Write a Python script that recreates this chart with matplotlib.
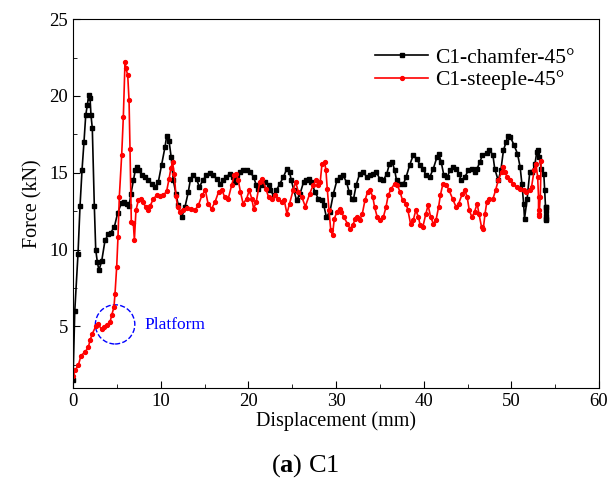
import matplotlib
matplotlib.use('Agg')
import matplotlib.pyplot as plt
import numpy as np
from matplotlib.patches import Ellipse
from matplotlib.ticker import MultipleLocator

plt.rcParams['font.family'] = 'Liberation Serif'
plt.rcParams['mathtext.fontset'] = 'custom'
plt.rcParams['mathtext.rm'] = 'Liberation Serif'
plt.rcParams['mathtext.bf'] = 'Liberation Serif:bold'

chamfer_data = [
    (0.0, 1.5), (0.2, 6.0), (0.57, 9.74), (0.8, 12.84), (1.03, 15.2), (1.25, 17.0),
    (1.45, 18.75), (1.63, 19.4), (1.79, 20.05), (1.94, 19.9), (2.05, 18.75), (2.2, 17.9),
    (2.43, 12.84), (2.59, 10.0), (2.77, 9.2), (2.96, 8.65), (3.27, 9.25), (3.65, 10.6),
    (4.03, 11.0), (4.3, 11.1), (4.71, 11.47), (5.1, 12.4), (5.55, 13.06), (5.85, 13.1),
    (6.12, 12.95), (6.39, 12.84), (6.61, 13.64), (6.88, 14.5), (7.1, 15.16), (7.33, 15.4),
    (7.52, 15.2), (7.83, 14.84), (8.2, 14.73), (8.59, 14.5), (8.97, 14.3), (9.35, 14.07),
    (9.73, 14.4), (10.1, 15.5), (10.5, 16.7), (10.68, 17.4), (10.95, 17.1), (11.2, 16.0),
    (11.44, 14.5), (11.74, 13.64), (12.0, 12.9), (12.4, 12.12), (12.77, 12.77), (13.15, 13.75),
    (13.4, 14.6), (13.7, 14.84), (14.1, 14.6), (14.4, 14.07), (14.8, 14.5), (15.2, 14.84),
    (15.6, 15.0), (16.0, 14.84), (16.4, 14.6), (16.8, 14.3), (17.1, 14.5), (17.5, 14.73),
    (17.9, 14.95), (18.3, 14.73), (18.5, 14.4), (18.7, 14.84), (19.0, 15.05), (19.4, 15.16),
    (19.8, 15.2), (20.2, 15.05), (20.6, 14.73), (20.9, 14.2), (21.1, 13.97), (21.5, 14.2),
    (21.9, 14.4), (22.3, 14.2), (22.5, 13.86), (22.9, 13.53), (23.2, 13.86), (23.6, 14.3),
    (24.0, 14.73), (24.4, 15.27), (24.7, 15.05), (24.9, 14.5), (25.2, 13.86), (25.5, 13.2),
    (25.9, 13.64), (26.3, 14.4), (26.6, 14.5), (26.9, 14.6), (27.2, 14.4), (27.6, 13.75),
    (28.0, 13.3), (28.4, 13.2), (28.6, 12.9), (28.9, 12.12), (29.3, 12.45), (29.7, 13.64),
    (30.1, 14.5), (30.4, 14.73), (30.8, 14.84), (31.2, 14.4), (31.5, 13.75), (31.8, 13.3),
    (32.0, 13.3), (32.3, 14.2), (32.7, 14.95), (33.1, 15.05), (33.5, 14.73), (33.9, 14.84),
    (34.2, 14.95), (34.6, 15.05), (35.0, 14.6), (35.4, 14.5), (35.8, 14.95), (36.1, 15.6),
    (36.4, 15.7), (36.7, 15.16), (36.9, 14.5), (37.3, 14.3), (37.7, 14.3), (38.0, 14.73),
    (38.4, 15.5), (38.8, 16.14), (39.2, 15.9), (39.6, 15.5), (39.9, 15.27), (40.3, 14.84),
    (40.7, 14.73), (41.1, 15.27), (41.5, 16.0), (41.7, 16.25), (42.0, 15.7), (42.3, 14.84),
    (42.7, 14.73), (43.0, 15.16), (43.4, 15.4), (43.7, 15.27), (44.0, 14.95), (44.3, 14.5),
    (44.7, 14.73), (45.1, 15.16), (45.5, 15.27), (45.8, 15.05), (46.1, 15.27), (46.4, 15.7),
    (46.7, 16.14), (47.2, 16.3), (47.5, 16.5), (47.9, 16.14), (48.1, 15.27), (48.5, 14.5),
    (48.8, 15.16), (49.1, 16.47), (49.4, 17.0), (49.6, 17.4), (49.9, 17.33), (50.3, 16.8),
    (50.7, 16.25), (51.0, 15.38), (51.2, 14.3), (51.4, 13.0), (51.5, 12.0), (51.8, 13.3),
    (52.1, 15.05), (52.4, 15.05), (52.7, 15.6), (52.9, 16.36), (53.0, 16.47), (53.2, 16.0),
    (53.4, 15.27), (53.7, 14.95), (53.8, 13.86), (53.9, 12.77), (53.9, 11.9), (54.0, 12.8),
    (53.95, 12.2), (54.0, 12.5), (53.9, 12.0),
]

steeple_data = [
    (0.04, 1.8), (0.23, 2.13), (0.6, 2.46), (0.91, 3.1), (1.37, 3.33), (1.75, 3.65),
    (1.94, 4.1), (2.2, 4.52), (2.59, 5.0), (2.88, 5.13), (3.27, 4.8), (3.53, 4.95),
    (3.84, 5.07), (4.22, 5.28), (4.41, 5.72), (4.67, 6.26), (4.79, 7.13), (4.98, 8.86),
    (5.13, 10.82), (5.28, 13.42), (5.55, 16.14), (5.74, 18.64), (5.93, 22.22), (6.04, 21.8),
    (6.24, 21.35), (6.39, 19.72), (6.5, 16.58), (6.65, 11.8), (6.88, 11.73), (7.0, 10.6),
    (7.18, 12.56), (7.45, 13.2), (7.75, 13.3), (8.0, 13.1), (8.28, 12.77), (8.59, 12.56),
    (8.78, 12.82), (9.16, 13.3), (9.54, 13.53), (9.92, 13.5), (10.3, 13.53), (10.68, 13.8),
    (10.95, 14.6), (11.17, 15.3), (11.35, 15.7), (11.55, 14.95), (11.74, 13.5), (11.94, 12.77),
    (12.2, 12.45), (12.57, 12.56), (12.96, 12.7), (13.5, 12.66), (13.9, 12.56), (14.3, 12.88),
    (14.7, 13.53), (15.1, 13.86), (15.4, 13.0), (15.8, 12.66), (16.2, 13.1), (16.6, 13.75),
    (17.0, 13.86), (17.3, 13.42), (17.7, 13.3), (18.1, 14.2), (18.4, 14.84), (18.6, 14.95),
    (18.85, 14.5), (19.1, 13.75), (19.4, 13.0), (19.8, 13.3), (20.1, 13.86), (20.4, 13.3),
    (20.6, 12.66), (20.9, 13.1), (21.3, 14.4), (21.6, 14.6), (22.0, 13.97), (22.3, 13.42),
    (22.7, 13.3), (23.0, 13.53), (23.4, 13.3), (23.8, 13.1), (24.1, 13.2), (24.4, 12.34),
    (24.7, 13.0), (25.1, 13.86), (25.4, 14.4), (25.7, 13.75), (26.1, 13.42), (26.5, 12.8),
    (27.0, 13.64), (27.4, 14.2), (27.7, 14.5), (28.0, 14.2), (28.2, 14.4), (28.4, 15.6),
    (28.7, 15.7), (28.85, 15.16), (29.0, 13.97), (29.2, 12.56), (29.4, 11.26), (29.6, 10.93),
    (29.8, 12.0), (30.1, 12.45), (30.4, 12.66), (30.6, 12.45), (30.9, 12.12), (31.3, 11.69),
    (31.6, 11.36), (31.9, 11.58), (32.2, 12.0), (32.4, 12.12), (32.7, 11.9), (33.0, 12.34),
    (33.3, 13.2), (33.6, 13.75), (33.9, 13.86), (34.2, 13.42), (34.4, 12.77), (34.7, 12.12),
    (35.0, 11.9), (35.4, 12.12), (35.7, 12.77), (35.95, 13.53), (36.3, 13.97), (36.7, 14.3),
    (37.0, 14.2), (37.3, 13.75), (37.6, 13.2), (38.0, 13.0), (38.2, 12.56), (38.5, 11.69),
    (38.8, 11.9), (39.1, 12.56), (39.4, 12.12), (39.6, 11.58), (39.9, 11.47), (40.25, 12.34),
    (40.5, 12.88), (40.8, 12.12), (41.1, 11.69), (41.4, 11.9), (41.7, 12.77), (41.9, 13.53),
    (42.2, 14.3), (42.6, 14.2), (42.9, 13.86), (43.3, 13.3), (43.7, 12.77), (44.0, 13.0),
    (44.4, 13.64), (44.7, 13.86), (44.96, 13.42), (45.2, 12.56), (45.5, 12.12), (45.8, 12.45),
    (46.1, 13.0), (46.3, 12.34), (46.6, 11.47), (46.8, 11.36), (47.0, 12.34), (47.2, 13.1),
    (47.5, 13.3), (47.9, 13.3), (48.2, 13.86), (48.5, 14.5), (48.9, 15.05), (49.1, 15.38),
    (49.3, 15.05), (49.5, 14.73), (49.8, 14.5), (50.2, 14.3), (50.6, 14.07), (51.0, 13.97),
    (51.4, 13.86), (51.7, 13.75), (52.1, 13.86), (52.3, 14.07), (52.6, 15.16), (52.8, 15.6),
    (53.0, 14.73), (53.1, 13.42), (53.1, 12.34), (53.2, 12.56), (53.15, 12.2), (53.3, 13.42),
    (53.4, 15.8),
]

labels = ['C1-chamfer-45°', 'C1-steeple-45°']
caption = r'($\mathbf{a}$) C1'

chamfer = np.array(chamfer_data)
steeple = np.array(steeple_data)

fig = plt.figure(figsize=(6.1, 4.8), dpi=100)
ax = fig.add_axes([0.1197, 0.192, 0.8623, 0.768])

ax.plot(chamfer[:, 0], chamfer[:, 1], '-s', color='black', linewidth=1.2,
        markersize=3.0, label=labels[0])
ax.plot(steeple[:, 0], steeple[:, 1], '-o', color='red', linewidth=1.2,
        markersize=2.8, label=labels[1])

# Platform markieren
ax.add_patch(Ellipse((4.8, 5.13), 4.5, 2.55, fill=False, linestyle='--',
                     edgecolor='blue', linewidth=1.0))
ax.text(8.2, 5.1, 'Platform', color='blue', fontsize=12.5, va='center', ha='left')

ax.set_xlim(0, 60)
ax.set_ylim(1, 25)
ax.xaxis.set_major_locator(MultipleLocator(10))
ax.xaxis.set_minor_locator(MultipleLocator(5))
ax.set_yticks([5, 10, 15, 20, 25])
ax.yaxis.set_minor_locator(MultipleLocator(2.5))
ax.tick_params(which='both', direction='in', top=False, right=False, labelsize=13.5)
ax.tick_params(which='major', length=5)
ax.tick_params(which='minor', length=3)

ax.set_xlabel('Displacement (mm)', fontsize=14.5, labelpad=1)
ax.set_ylabel('Force (kN)', fontsize=14.5, labelpad=5)

ax.legend(loc='upper right', frameon=False, fontsize=15.5, handlelength=2.5,
          handletextpad=0.3, labelspacing=0.1, bbox_to_anchor=(0.99, 0.975))

fig.text(0.5, 0.031, caption, ha='center', va='center', fontsize=19)

fig.savefig('out.png', dpi=100)
